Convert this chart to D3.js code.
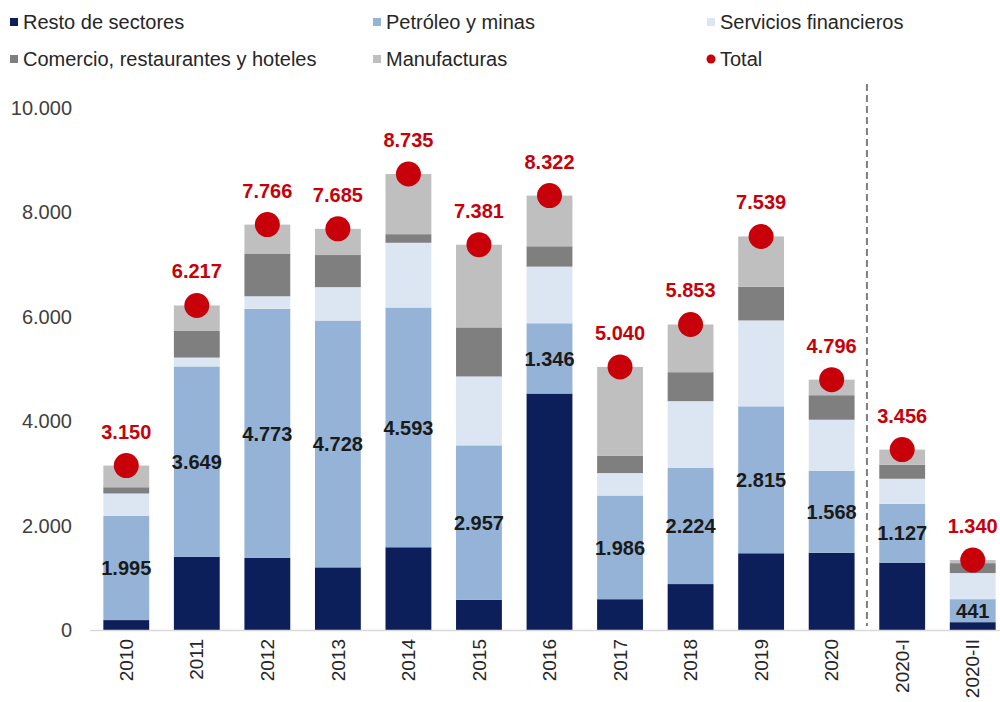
<!DOCTYPE html>
<html>
<head>
<meta charset="utf-8">
<script src="https://cdn.jsdelivr.net/npm/d3@7"></script>
<style>
  html, body { margin: 0; padding: 0; background: #ffffff; }
  svg { display: block; font-family: "Liberation Sans", Arial, sans-serif; }
</style>
</head>
<body>
<svg id="chart" width="1000" height="702"></svg>
<script>
// Periods on the x axis
const categories = ["2010","2011","2012","2013","2014","2015","2016","2017","2018","2019","2020","2020-I","2020-II"];

// Stacked components (bottom to top)
const resto        = [190, 1400, 1380, 1200, 1585,  580, 4530,  590,  880, 1470, 1480, 1290, 150];
const petroleo     = [1995, 3649, 4773, 4728, 4593, 2957, 1346, 1986, 2224, 2815, 1568, 1127, 441];
const servicios    = [430,  170,  240,  640, 1240, 1320, 1085,  430, 1280, 1645,  980,  480, 500];
const comercio     = [120,  510,  820,  615,  165,  940,  390,  335,  555,  645,  470,  270, 190];
const manufacturas = [415,  488,  553,  502, 1152, 1584,  971, 1699,  914,  964,  298,  289,  59];

// Total per period
const totals = [3150, 6217, 7766, 7685, 8735, 7381, 8322, 5040, 5853, 7539, 4796, 3456, 1340];

// Y axis ticks
const yTicks = [0, 2000, 4000, 6000, 8000, 10000];

const seriesNames = ["Resto de sectores", "Petróleo y minas", "Servicios financieros",
                     "Comercio, restaurantes y hoteles", "Manufacturas"];
const seriesColors = ["#0c1f5b", "#95b3d7", "#dce6f2", "#7f7f7f", "#bfbfbf"];
const totalColor = "#c8000a";

const rows = categories.map((c, i) => ({
  cat: c,
  "Resto de sectores": resto[i],
  "Petróleo y minas": petroleo[i],
  "Servicios financieros": servicios[i],
  "Comercio, restaurantes y hoteles": comercio[i],
  "Manufacturas": manufacturas[i],
  total: totals[i]
}));

const svg = d3.select("#chart");
const locale = d3.formatLocale({ decimal: ",", thousands: ".", grouping: [3], currency: ["", ""] });
const fmt = locale.format(",d");

const x = d3.scaleBand().domain(categories).range([91, 1008]).paddingInner(0.35).paddingOuter(0.175);
const y = d3.scaleLinear().domain([0, 10000]).range([630, 108]);

// Y axis labels (no axis line)
const yAxis = svg.append("g")
  .attr("transform", "translate(72,0)")
  .call(d3.axisLeft(y).tickValues(yTicks).tickFormat(fmt).tickSize(0).tickPadding(0));
yAxis.select(".domain").remove();
yAxis.selectAll("text")
  .attr("font-size", 20)
  .attr("font-family", "Liberation Sans, Arial, sans-serif")
  .attr("fill", "#404040");

// Stacked bars
const stack = d3.stack().keys(seriesNames);
const layers = stack(rows);
svg.append("g").selectAll("g")
  .data(layers)
  .join("g")
  .attr("fill", (d, i) => seriesColors[i])
  .selectAll("rect")
  .data(d => d)
  .join("rect")
  .attr("x", d => x(d.data.cat))
  .attr("width", x.bandwidth())
  .attr("y", d => y(d[1]))
  .attr("height", d => y(d[0]) - y(d[1]));

// Baseline
svg.append("line")
  .attr("x1", 90).attr("x2", 1000)
  .attr("y1", y(0) + 0.5).attr("y2", y(0) + 0.5)
  .attr("stroke", "#d9d9d9").attr("stroke-width", 1.5);

// X axis labels, rotated
const xAxis = svg.append("g")
  .attr("transform", `translate(0,${y(0)})`)
  .call(d3.axisBottom(x).tickSize(0).tickPadding(0));
xAxis.select(".domain").remove();
xAxis.selectAll("text")
  .attr("font-size", 19)
  .attr("font-family", "Liberation Sans, Arial, sans-serif")
  .attr("fill", "#262626")
  .attr("text-anchor", "end")
  .attr("transform", "translate(0,9) rotate(-90)")
  .attr("x", 0).attr("y", 0).attr("dy", "0.35em");

// Separator between annual and half-year periods
const sepX = x("2020") + x.bandwidth() + (x.step() - x.bandwidth()) / 2;
svg.append("line")
  .attr("x1", sepX).attr("x2", sepX)
  .attr("y1", 84).attr("y2", 626)
  .attr("stroke", "#7f7f7f").attr("stroke-width", 2)
  .attr("stroke-dasharray", "7,4");

// Labels inside the Petróleo y minas segment
const petLayer = layers[1];
svg.append("g").selectAll("text")
  .data(petLayer)
  .join("text")
  .attr("x", d => x(d.data.cat) + x.bandwidth() / 2)
  .attr("y", d => (y(d[0]) + y(d[1])) / 2)
  .attr("dy", "0.36em")
  .attr("text-anchor", "middle")
  .attr("font-size", 20)
  .attr("font-weight", "bold")
  .attr("fill", "#1a1a1a")
  .text(d => fmt(d.data["Petróleo y minas"]));

// Total markers
svg.append("g").selectAll("circle")
  .data(rows)
  .join("circle")
  .attr("cx", d => x(d.cat) + x.bandwidth() / 2)
  .attr("cy", d => y(d.total))
  .attr("r", 12.5)
  .attr("fill", totalColor);

svg.append("g").selectAll("text")
  .data(rows)
  .join("text")
  .attr("x", d => x(d.cat) + x.bandwidth() / 2)
  .attr("y", d => y(d.total) - 27)
  .attr("text-anchor", "middle")
  .attr("font-size", 20)
  .attr("font-weight", "bold")
  .attr("fill", totalColor)
  .text(d => fmt(d.total));

// Legend
const legendItems = [
  { name: "Resto de sectores", color: seriesColors[0], type: "rect", col: 0, row: 0 },
  { name: "Petróleo y minas", color: seriesColors[1], type: "rect", col: 1, row: 0 },
  { name: "Servicios financieros", color: seriesColors[2], type: "rect", col: 2, row: 0 },
  { name: "Comercio, restaurantes y hoteles", color: seriesColors[3], type: "rect", col: 0, row: 1 },
  { name: "Manufacturas", color: seriesColors[4], type: "rect", col: 1, row: 1 },
  { name: "Total", color: totalColor, type: "circle", col: 2, row: 1 }
];
const colX = [10, 373, 707];
const rowY = [22, 59];
const lg = svg.append("g").selectAll("g")
  .data(legendItems)
  .join("g")
  .attr("transform", d => `translate(${colX[d.col]},${rowY[d.row]})`);
lg.filter(d => d.type === "rect").append("rect")
  .attr("x", 0).attr("y", -4).attr("width", 8).attr("height", 8)
  .attr("fill", d => d.color);
lg.filter(d => d.type === "circle").append("circle")
  .attr("cx", 4).attr("cy", 0).attr("r", 4.5)
  .attr("fill", d => d.color);
lg.append("text")
  .attr("x", 13).attr("y", 0).attr("dy", "0.35em")
  .attr("font-size", 20)
  .attr("fill", "#262626")
  .text(d => d.name);
</script>
</body>
</html>
